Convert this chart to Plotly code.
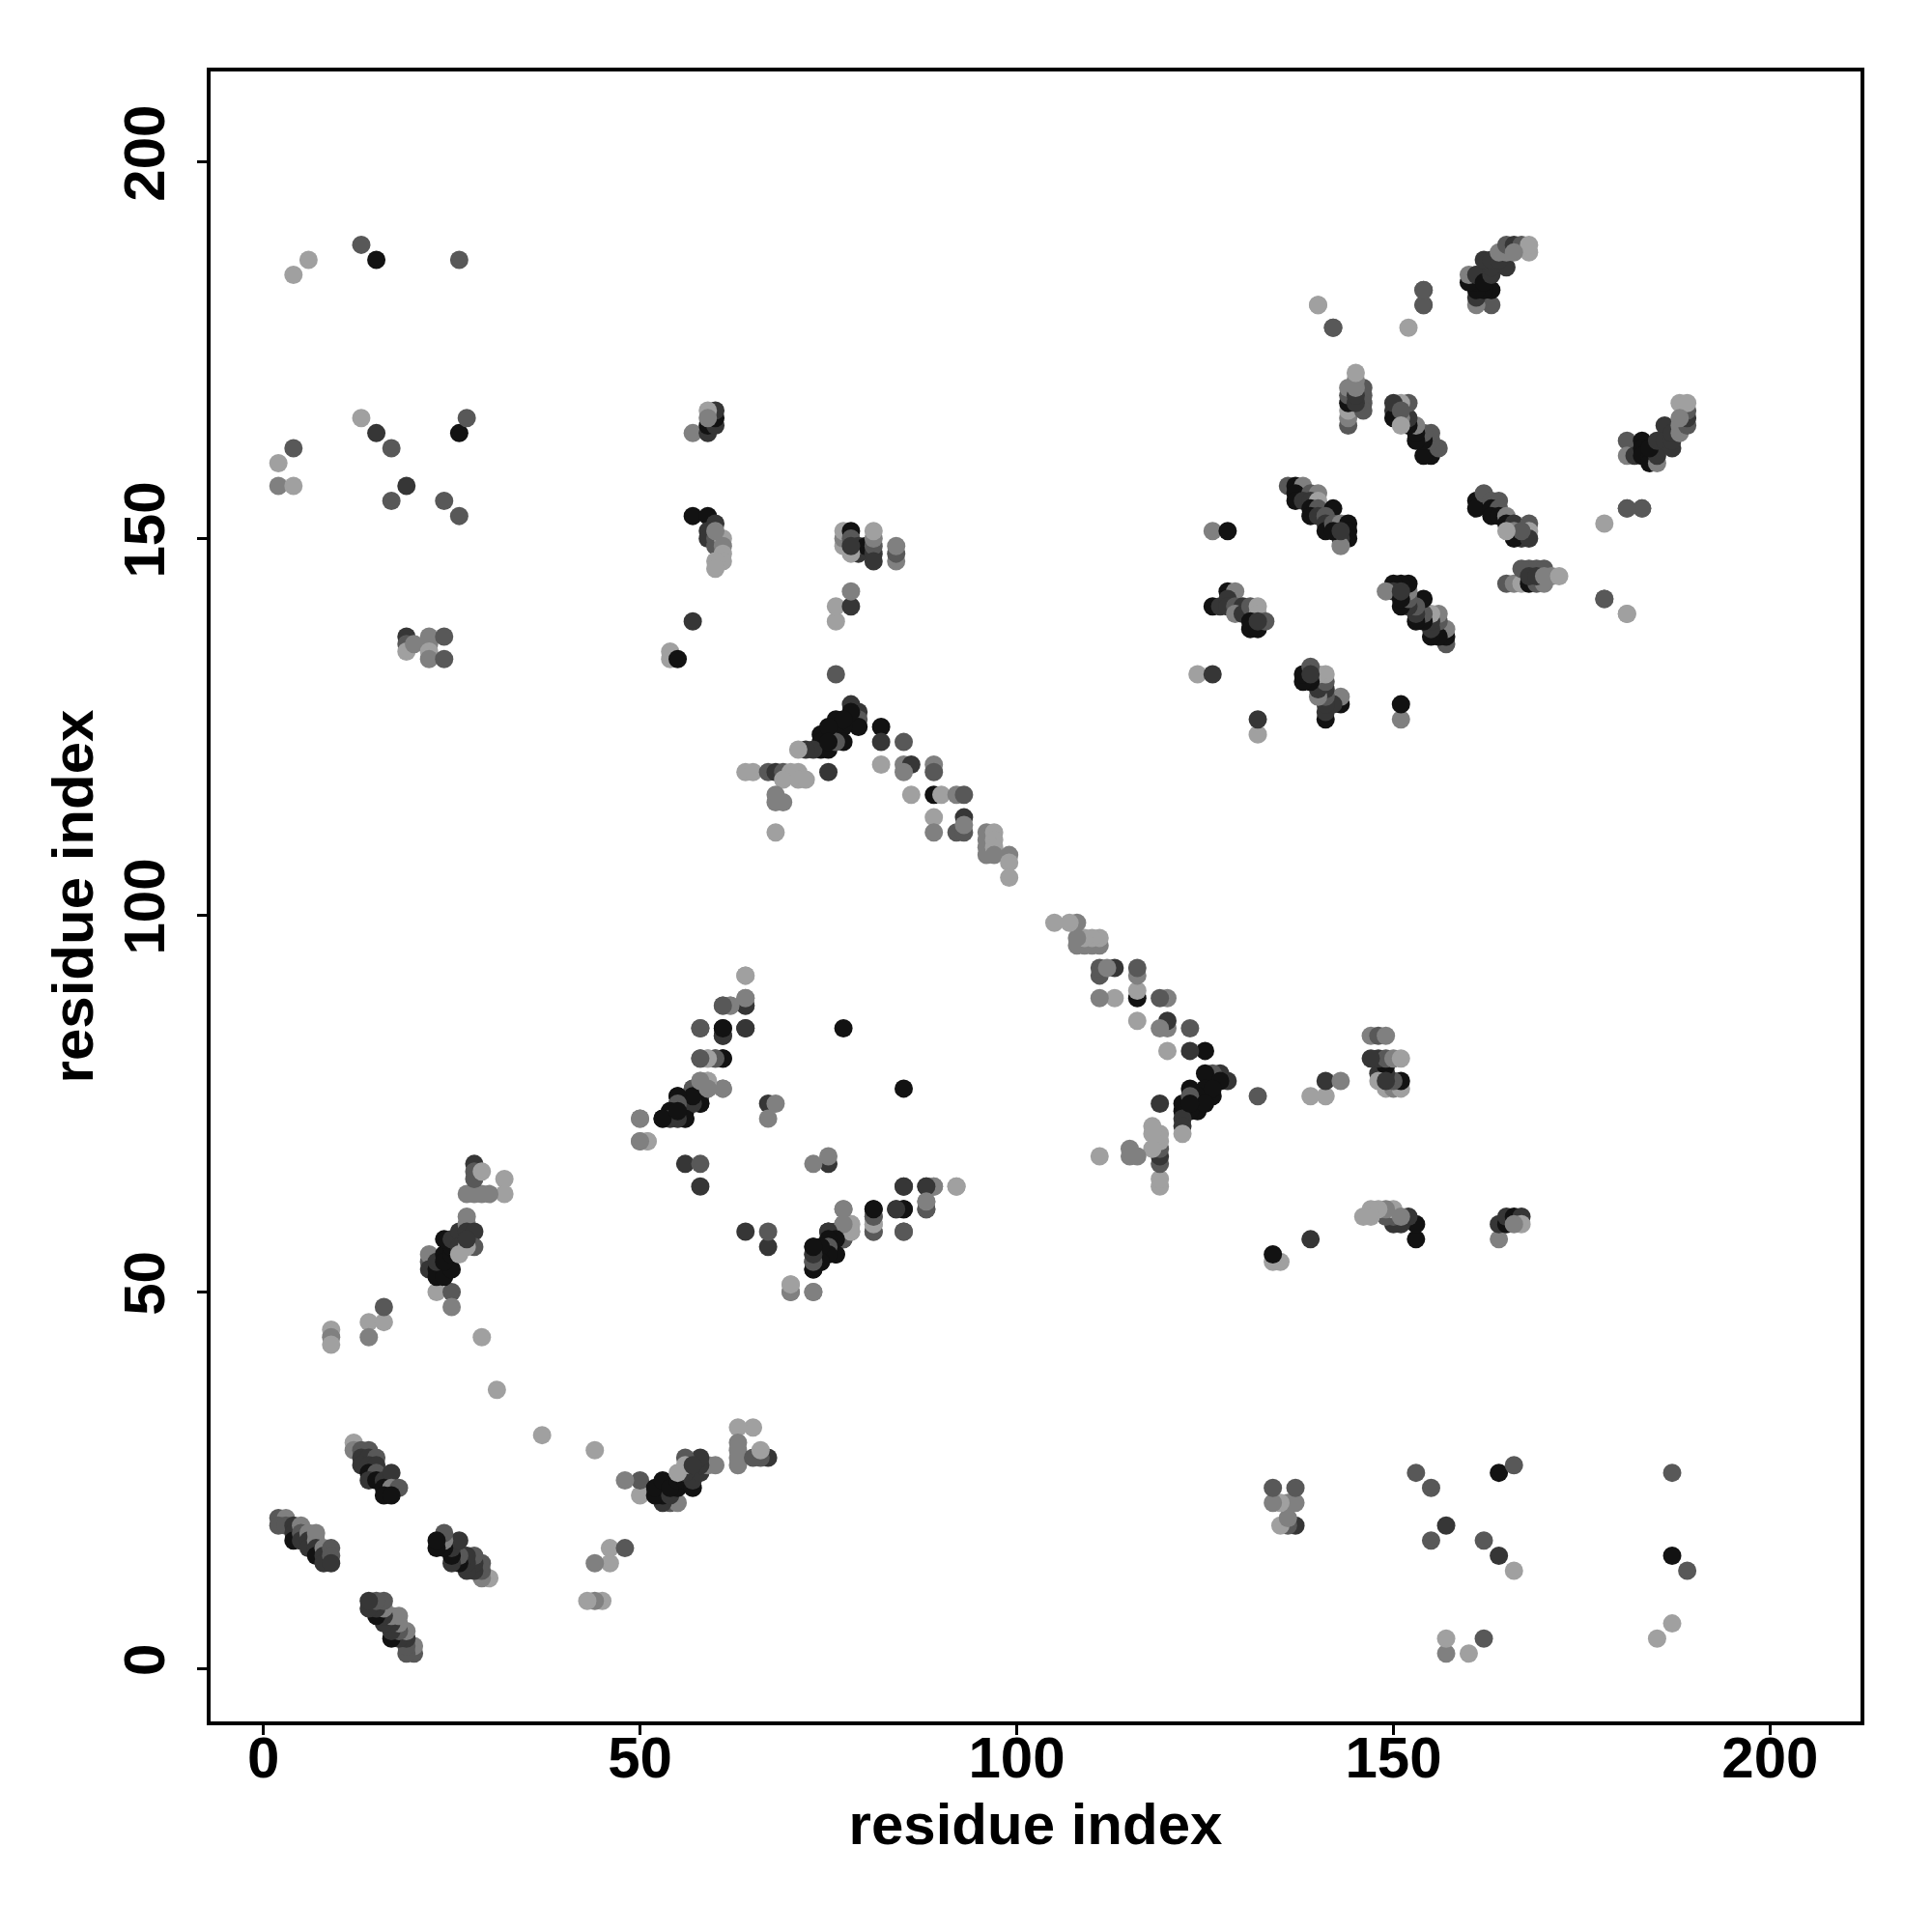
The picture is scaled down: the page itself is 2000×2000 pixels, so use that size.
import plotly.graph_objects as go

B, D, M, L, P = 0x12, 0x36, 0x58, 0x80, 0xa0

near_a = [(2,20,M),(3,20,L),(2,19,M),(3,19,M),(4,19,D),(4,18,D),(4,17,B),(5,19,L),(5,18,M),(5,17,D),
          (6,18,L),(6,17,D),(6,16,D),(7,18,L),(7,17,L),(7,16,D),(7,15,B),(8,16,L),(8,15,D),(8,14,D),
          (9,16,M),(9,15,M),(9,14,D)]
near_b = [(12,30,P),(12,29,L),(13,29,M),(14,29,M),(13,28,D),(14,28,D),(15,28,M),(13,27,D),(14,27,D),(15,27,D),
          (14,26,B),(15,26,M),(14,25,D),(15,25,B),(16,25,D),(17,26,D),(16,24,B),(17,24,L),(18,24,M),(16,23,B),(17,23,B)]
near_c = [(23,50,P),(25,50,M),(25,48,L),(22,54,M),(22,55,L),(22,53,D),(23,53,B),(23,52,B),(24,52,B),(25,53,B),
          (23,54,D),(24,55,B),(24,54,B),(25,55,B),(25,56,B),(24,57,B),(25,57,D),(26,58,D),(26,56,D),(26,55,P),
          (27,59,L),(27,60,L),(27,58,D),(28,58,D),(28,56,M),(27,56,P),(27,57,D),(27,63,L),(28,63,L),(29,63,L),
          (28,67,D),(28,66,M),(28,65,M),(29,66,P),(32,65,P),(32,63,P),(30,63,L)]
sparse_low = [(9,45,P),(9,44,L),(9,43,P),(14,46,P),(14,44,L),(16,46,P),(16,48,M),(29,44,P),(31,37,P)]
far_left = [(4,185,P),(6,187,P),(13,189,M),(15,187,B),(26,187,M),(2,160,P),(2,157,L),(4,162,M),(4,157,P),(13,166,P),
            (15,164,D),(17,162,M),(17,155,M),(19,157,D),(24,155,M),(26,153,M),(26,164,B),(27,166,M),
            (19,137,D),(19,136,M),(19,135,P),(20,136,L),(22,137,L),(22,136,L),(22,135,P),(22,134,L),(24,137,M),(24,134,M)]
mid_left = [(54,134,P),(54,135,P),(55,134,B),(57,139,D),(57,153,B),(59,153,B),(59,151,D),(59,150,D),(60,152,D),
            (60,150,M),(60,149,M),(61,150,P),(61,149,L),(61,148,P),(61,147,P),(60,147,P),(60,146,P),(60,151,L),
            (57,164,L),(59,164,D),(59,165,B),(60,165,D),(60,166,B),(60,167,D),(59,167,P),(59,166,L)]
mid_up = [(76,139,P),(76,141,P),(78,141,D),(78,143,L),(77,149,P),(77,150,L),(77,151,P),(78,151,B),(78,150,M),
          (79,149,D),(79,148,D),(80,149,B),(78,148,P),(81,148,D),(81,149,M),(81,150,L),(81,151,P),(81,147,D),
          (84,147,L),(84,148,M),(84,149,L),(78,149,D),(77,85,B)]
peak = [(76,132,M),(78,128,D),(79,127,D),(79,126,M),(79,125,B),(76,126,B),(77,125,B),(76,124,B),(74,124,B),(74,123,B),
        (74,122,B),(75,122,B),(77,123,B),(76,123,M),(73,122,D),(72,122,D),(71,122,P),(75,119,D),(78,127,B),(77,126,B),
        (75,125,B),(75,123,B),
        (82,125,B),(82,123,D),(85,123,M),(82,120,P),(85,120,L),(86,120,D),(85,119,L),(89,120,L),(89,119,M),(86,116,P),
        (89,116,B),(90,116,P),(92,116,L),(93,116,M),(89,113,P),(89,111,L),(93,113,D),(92,111,M),(93,111,M),(93,112,L),
        (96,111,L),(96,110,L),(96,109,L),(96,108,L),(97,111,P),(97,110,P),(97,109,P),(97,108,L),(99,108,L),(99,107,P),(99,105,P),
        (64,119,P),(65,119,P),(67,119,M),(68,119,D),(69,119,M),(70,119,P),(71,119,P),(69,118,P),(71,118,P),(72,118,P),
        (68,116,L),(68,115,L),(69,115,L),(68,111,P)]
beta = [(64,92,P),(64,89,L),(64,88,D),(61,88,M),(62,88,L),(58,85,M),(61,85,B),(61,84,D),(64,85,D),(58,81,M),(59,81,P),
        (60,81,M),(61,81,B),(57,77,M),(58,78,P),(59,78,P),(59,77,L),(61,77,L),(55,76,B),(58,75,D),(57,76,B),(57,75,B),
        (56,75,M),(55,75,B),(56,74,B),(54,74,B),(53,73,B),(54,73,M),(55,73,D),(56,73,B),(50,73,L),(50,70,L),(51,70,P),
        (56,67,D),(58,67,M),(58,64,D),(67,75,D),(68,75,L),(67,73,L)]
beta_low = [(85,64,D),(88,64,D),(89,64,L),(92,64,P),(77,61,L),(81,61,B),(84,61,D),(85,61,B),(88,62,L),(88,61,M),
            (81,60,M),(81,59,P),(81,58,M),(85,58,M),(76,58,D),(75,58,B),(77,57,M),(75,57,D),(76,57,B),(76,55,B),
            (73,56,B),(75,55,M),(74,54,B),(73,55,D),(73,54,D),(73,53,B),(74,55,B),(78,59,P),(78,58,L),(77,59,L),
            (70,51,P),(70,50,L),(73,50,L)]
c1 = [(136,157,M),(137,157,B),(138,157,L),(137,156,B),(139,156,M),(140,156,L),(137,155,B),(138,155,D),(139,155,D),
      (140,155,P),(139,154,B),(140,154,M),(142,154,B),(139,153,B),(140,153,D),(141,153,M),(141,152,D),(141,151,B),
      (142,152,M),(143,152,L),(144,152,B),(144,151,B),(144,150,B),(143,150,D),(143,149,L),(142,151,B),(143,151,D)]
c3 = [(126,141,B),(127,141,D),(128,143,B),(129,143,L),(128,142,D),(128,141,D),(129,141,M),(130,141,D),(129,140,L),
      (130,140,D),(131,141,M),(132,141,P),(132,140,P),(131,139,B),(131,138,B),(132,138,B),(133,139,M),(132,139,D),
      (124,132,P),(126,132,D),(126,151,L),(128,151,B)]
c4 = [(161,155,B),(161,154,B),(162,156,M),(163,155,M),(164,155,M),(163,154,B),(164,154,M),(163,153,B),(164,153,B),
      (165,153,L),(165,152,B),(166,152,D),(166,151,L),(167,150,D),(166,150,B),(168,152,M),(168,151,P),(168,150,D),
      (167,151,M),(165,151,P)]
c6 = [(165,144,M),(166,144,L),(167,144,P),(168,144,B),(169,144,M),(170,144,L),(168,146,M),(169,146,M),(170,146,M),
      (167,146,M),(168,145,D),(169,145,D),(170,145,L),(171,145,L),(172,145,P)]
c7 = [(181,163,M),(181,161,L),(182,161,D),(183,163,B),(183,162,B),(183,161,B),(184,161,B),(184,160,B),(185,160,L),
      (185,161,D),(184,162,B),(185,163,D),(186,165,D),(186,163,D),(187,162,D),(187,163,D),(187,164,D),(188,164,L),
      (188,165,L),(189,165,M),(189,166,D),(189,167,M),(188,168,P),(189,168,P),(188,166,L)]
sparse_up = [(140,181,P),(142,178,M),(152,178,P),(154,183,M),(154,181,M),(178,142,M),(181,140,P),(181,154,M),(183,154,M)]

contacts = (near_a + near_b + near_c + sparse_low + far_left + mid_left + mid_up + peak + beta + beta_low
            + c1 + c3 + c4 + c6 + c7 + sparse_up)

x = [c[0] for c in contacts] + [c[1] for c in contacts]
y = [c[1] for c in contacts] + [c[0] for c in contacts]
colors = [f"rgb({c[2]},{c[2]},{c[2]})" for c in contacts] * 2

fig = go.Figure(go.Scatter(x=x, y=y, mode="markers", showlegend=False,
                           marker=dict(size=19, color=colors, line=dict(width=0))))

font = "Liberation Sans"
axis = dict(range=[-7, 212], tickvals=[0, 50, 100, 150, 200], showgrid=False, zeroline=False,
            showline=True, mirror=True, linecolor="black", linewidth=3.5,
            ticks="outside", ticklen=10, tickwidth=3, tickcolor="black",
            tickfont=dict(family=font, size=60, color="black", weight="bold"))
title_font = dict(family=font, size=60, color="black", weight="bold")
fig.update_layout(
    width=2000, height=2000, autosize=False, paper_bgcolor="white", plot_bgcolor="white",
    margin=dict(l=210, r=82, t=66, b=226),
    xaxis=dict(axis, ticklabelstandoff=-28, title=dict(text="residue index", standoff=16, font=title_font)),
    yaxis=dict(axis, tickangle=-90, ticklabelstandoff=10, title=dict(text="residue index", standoff=1, font=title_font)),
)
fig.write_html("out.html")
